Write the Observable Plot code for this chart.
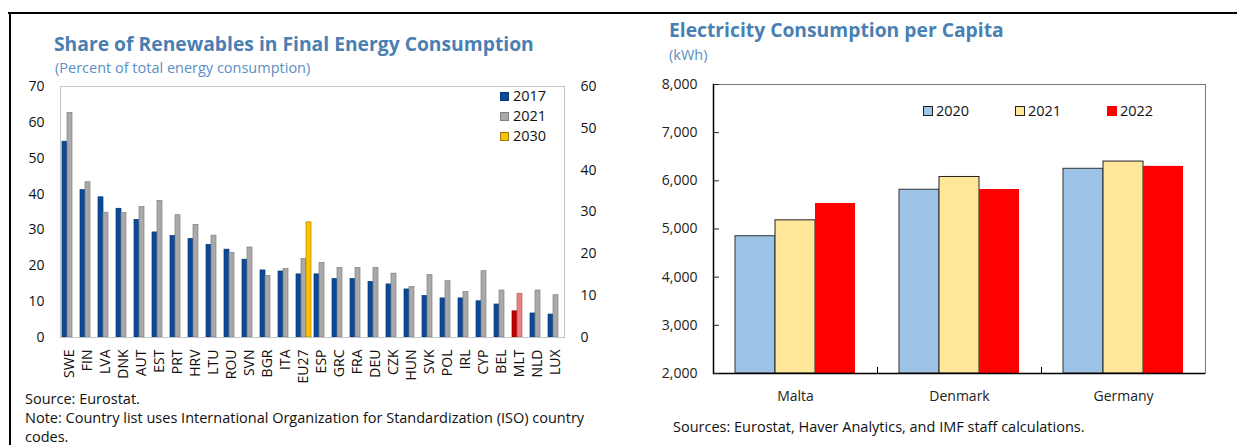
<!DOCTYPE html>
<html><head><meta charset="utf-8">
<script src="https://cdn.jsdelivr.net/npm/d3@7"></script>
<script src="https://cdn.jsdelivr.net/npm/@observablehq/plot@0.6"></script>
<style>
body{margin:0;background:#fff;font-family:"Open Sans",sans-serif;}
#page{position:relative;width:1237px;height:445px;overflow:hidden;background:#fff;}
.abs{position:absolute;white-space:nowrap;}
.title{font-weight:700;color:#4a7fb3;font-size:19.3px;line-height:20px;}
.sub{color:#5b8fc4;font-size:14.5px;line-height:16px;}
.note{color:#111;font-size:14.5px;line-height:19px;}
.leg{font-size:14.5px;color:#111;line-height:18px;display:flex;align-items:center;}
.sw{display:inline-block;width:9px;height:9px;margin-right:4px;box-sizing:border-box;}
.sw2{display:inline-block;width:10px;height:10px;margin-right:3px;box-sizing:border-box;border:1px solid #222;}
svg{overflow:visible;}
</style></head>
<body><div id="page">
<div class="abs" style="left:8px;top:12px;width:1229px;height:2px;background:#000"></div>
<div class="abs" style="left:9px;top:12px;width:2px;height:433px;background:#000"></div>

<div class="abs title" style="left:54px;top:34px;">Share of Renewables in Final Energy Consumption</div>
<div class="abs sub" style="left:55px;top:60px;">(Percent of total energy consumption)</div>
<div id="left" class="abs" style="left:0;top:76px;"></div>
<div class="abs leg" style="left:500px;top:87px;"><span class="sw" style="background:#0b4a99;border:1px solid #08387a"></span>2017</div>
<div class="abs leg" style="left:500px;top:107px;"><span class="sw" style="background:#a9a9a9;border:1px solid #808080"></span>2021</div>
<div class="abs leg" style="left:500px;top:127px;"><span class="sw" style="background:#ffc000;border:1px solid #9a7a10"></span>2030</div>
<div class="abs note" style="left:25px;top:389px;">Source: Eurostat.<br>Note: Country list uses International Organization for Standardization (ISO) country<br>codes.</div>

<div class="abs title" style="left:669px;top:20px;">Electricity Consumption per Capita</div>
<div class="abs sub" style="left:669px;top:47px;">(kWh)</div>
<div id="right" class="abs" style="left:620px;top:74px;"></div>
<div class="abs leg" style="left:923px;top:102px;"><span class="sw2" style="background:#9dc3e6"></span>2020</div>
<div class="abs leg" style="left:1015px;top:102px;"><span class="sw2" style="background:#ffe699"></span>2021</div>
<div class="abs leg" style="left:1107px;top:102px;"><span class="sw2" style="background:#ff0000;border-color:#ff0000"></span>2022</div>
<div class="abs note" style="left:673px;top:417px;">Sources: Eurostat, Haver Analytics, and IMF staff calculations.</div>
</div>
<script>
// ---- Left chart data ----
const countries = ["SWE","FIN","LVA","DNK","AUT","EST","PRT","HRV","LTU","ROU","SVN","BGR","ITA","EU27","ESP","GRC","FRA","DEU","CZK","HUN","SVK","POL","IRL","CYP","BEL","MLT","NLD","LUX"];
const share2017 = [54.6,41.1,39.1,35.9,32.8,29.3,28.3,27.5,25.8,24.5,21.7,18.7,18.4,17.6,17.6,16.3,16.3,15.5,14.8,13.4,11.6,10.9,10.9,10.1,9.2,7.3,6.7,6.4];
const share2021 = [62.6,43.3,34.8,34.7,36.4,38.1,34.1,31.4,28.4,23.6,25.1,17.2,19.1,21.9,20.8,19.4,19.4,19.4,17.8,14.1,17.4,15.7,12.7,18.5,13.1,12.2,13.1,11.8];
const targetCountries = ["EU27"];
const target2030 = [32.1];
const seriesNames = ["2017","2021","2030"];
const leftTicks = [0,10,20,30,40,50,60,70];
const rightTicks = [0,10,20,30,40,50,60];
const leftMax = 70, rightMax = 60;

// ---- Right chart data ----
const places = ["Malta","Denmark","Germany"];
const years = ["2020","2021","2022"];
const kwh2020 = [4850,5815,6250];
const kwh2021 = [5180,6080,6400];
const kwh2022 = [5530,5820,6300];
const kwhTicks = [2000,3000,4000,5000,6000,7000,8000];
const kwhDomain = [2000,8000];

const rows = [];
countries.forEach((c,i)=>{
  rows.push({country:c, series:"2017", value:share2017[i]});
  rows.push({country:c, series:"2021", value:share2021[i]});
});
targetCountries.forEach((c,i)=>rows.push({country:c, series:"2030", value:target2030[i]}));

const baseFill = {"2017":"#0b4a99","2021":"#a9a9a9","2030":"#ffc000"};
const baseStroke = {"2017":"#08387a","2021":"#808080","2030":"#a88400"};
const fillOf = d => d.country==="MLT" ? (d.series==="2017" ? "#c00000" : "#e88080") : baseFill[d.series];
const strokeOf = d => d.country==="MLT" ? (d.series==="2017" ? "#8a0000" : "#b86060") : baseStroke[d.series];
const frameGray = "#c6c6c6";

const left = Plot.plot({
  width: 620, height: 311,
  marginLeft: 54, marginRight: 50, marginTop: 10, marginBottom: 50,
  style: {fontFamily: "Open Sans", fontSize: "14px", color: "#111", background: "transparent"},
  fx: {domain: countries, paddingInner: 0, paddingOuter: 0, label: null},
  x: {domain: seriesNames, paddingInner: 0, paddingOuter: 0.175, axis: null},
  y: {domain: [0, leftMax]},
  marks: [
    Plot.barY(rows, {fx:"country", x:"series", y:"value", fill: fillOf, stroke: strokeOf, strokeWidth: 0.7}),
    Plot.ruleY([0], {stroke: frameGray}),
    Plot.ruleY([leftMax], {stroke: frameGray}),
    Plot.frame({anchor:"left", facetAnchor:"left", stroke: frameGray}),
    Plot.frame({anchor:"right", facetAnchor:"right", stroke: frameGray}),
    Plot.axisY(leftTicks, {anchor:"left", facetAnchor:"left", tickSize:0, tickPadding:16, label:null}),
    Plot.axisY(rightTicks.map(t => t*leftMax/rightMax), {anchor:"right", facetAnchor:"right", tickSize:0, tickPadding:16, label:null, tickFormat: d => String(Math.round(d*rightMax/leftMax))}),
    Plot.axisFx({anchor:"bottom", tickRotate:-90, tickSize:0, tickPadding:12, label:null})
  ]
});
document.getElementById("left").appendChild(left);

const erows = [];
places.forEach((p,i)=>{
  erows.push({place:p, year:"2020", value:kwh2020[i]});
  erows.push({place:p, year:"2021", value:kwh2021[i]});
  erows.push({place:p, year:"2022", value:kwh2022[i]});
});
const yearFill = {"2020":"#9dc3e6","2021":"#ffe699","2022":"#ff0000"};
const yearStroke = {"2020":"#333","2021":"#222","2022":"none"};

const right = Plot.plot({
  width: 617, height: 339,
  marginLeft: 93, marginRight: 32, marginTop: 10, marginBottom: 40,
  style: {fontFamily: "Open Sans", fontSize: "14px", color: "#222", background: "transparent"},
  fx: {domain: places, paddingInner: 0, paddingOuter: 0, label: null},
  x: {domain: years, paddingInner: 0, paddingOuter: 0.516, axis: null},
  y: {domain: kwhDomain},
  marks: [
    Plot.barY(erows, {fx:"place", x:"year", y1: kwhDomain[0], y2:"value", fill: d => yearFill[d.year], stroke: d => yearStroke[d.year], strokeWidth: 1}),
    Plot.ruleY([kwhDomain[1]], {stroke:"#777"}),
    Plot.frame({anchor:"right", facetAnchor:"right", stroke:"#777"}),
    Plot.frame({anchor:"left", insetTop: 283, stroke:"#000"}),
    Plot.ruleY([kwhDomain[0]], {stroke:"#000", strokeWidth: 1.5}),
    Plot.frame({anchor:"left", facetAnchor:"left", stroke:"#000", strokeWidth: 1.5}),
    Plot.axisY(kwhTicks, {anchor:"left", facetAnchor:"left", tickSize:-6, tickPadding:22, label:null, tickFormat: d3.format(",")}),
    Plot.axisFx({anchor:"bottom", tickSize:0, tickPadding:18, label:null})
  ]
});
document.getElementById("right").appendChild(right);
</script>
</body></html>
